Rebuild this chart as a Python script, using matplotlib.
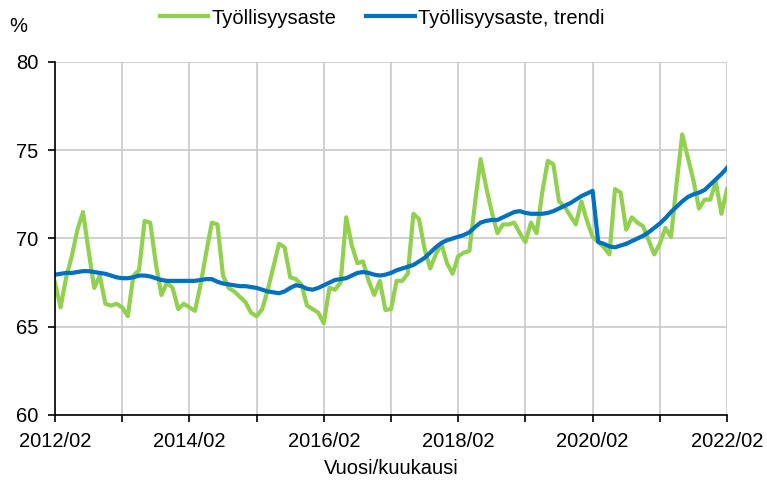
import matplotlib
matplotlib.use("Agg")
import matplotlib.pyplot as plt
from matplotlib import font_manager

# ---- data (monthly, 2012/02 .. 2022/02) ----
tick_labels = ["2012/02", "", "2014/02", "", "2016/02", "", "2018/02", "", "2020/02", "", "2022/02"]
y_ticks = [60, 65, 70, 75, 80]

employment = [
    67.5, 66.1, 67.8, 69.0, 70.5, 71.5, 69.3, 67.2, 67.9, 66.3, 66.2, 66.3,   # 2012/02-2013/01
    66.1, 65.6, 67.9, 68.2, 71.0, 70.9, 68.6, 66.8, 67.5, 67.2, 66.0, 66.3,   # 2013/02-2014/01
    66.1, 65.9, 67.4, 69.2, 70.9, 70.8, 67.9, 67.2, 67.0, 66.7, 66.4, 65.8,   # 2014/02-2015/01
    65.6, 66.0, 67.1, 68.4, 69.7, 69.5, 67.8, 67.7, 67.4, 66.2, 66.0, 65.8,   # 2015/02-2016/01
    65.2, 67.2, 67.1, 67.5, 71.2, 69.6, 68.6, 68.7, 67.6, 66.8, 67.6, 65.95,  # 2016/02-2017/01
    66.0, 67.6, 67.6, 68.0, 71.4, 71.1, 69.4, 68.3, 69.1, 69.7, 68.6, 68.0,   # 2017/02-2018/01
    69.0, 69.2, 69.3, 72.0, 74.5, 72.9, 71.5, 70.3, 70.8, 70.8, 70.9, 70.3,   # 2018/02-2019/01
    69.8, 70.9, 70.3, 72.6, 74.4, 74.2, 72.1, 71.8, 71.3, 70.8, 72.1, 71.0,   # 2019/02-2020/01
    70.1, 69.8, 69.5, 69.1, 72.8, 72.6, 70.5, 71.2, 70.9, 70.7, 69.9, 69.1,   # 2020/02-2021/01
    69.7, 70.6, 70.1, 73.1, 75.9, 74.6, 73.3, 71.7, 72.2, 72.2, 73.2, 71.4,   # 2021/02-2022/01
    72.8,                                                                     # 2022/02
]

trend = [
    67.95, 68.0, 68.05, 68.05, 68.1, 68.15, 68.15, 68.1, 68.05, 68.0, 67.9, 67.8,
    67.75, 67.75, 67.8, 67.9, 67.9, 67.85, 67.75, 67.65, 67.6, 67.6, 67.6, 67.6,
    67.6, 67.6, 67.65, 67.7, 67.7, 67.55, 67.45, 67.4, 67.35, 67.3, 67.3, 67.25,
    67.2, 67.1, 67.0, 66.95, 66.9, 67.0, 67.2, 67.35, 67.3, 67.15, 67.1, 67.2,
    67.35, 67.5, 67.65, 67.7, 67.75, 67.9, 68.05, 68.1, 68.05, 67.95, 67.9, 67.95,
    68.05, 68.2, 68.3, 68.4, 68.5, 68.7, 68.9, 69.2, 69.5, 69.75, 69.9, 70.0,
    70.1, 70.2, 70.35, 70.65, 70.9, 71.0, 71.05, 71.05, 71.2, 71.35, 71.5, 71.55,
    71.45, 71.4, 71.4, 71.4, 71.45, 71.55, 71.7, 71.85, 72.0, 72.2, 72.4, 72.55,
    72.7, 69.8, 69.7, 69.55, 69.5, 69.6, 69.7, 69.85, 70.0, 70.15, 70.35, 70.6,
    70.85, 71.15, 71.5, 71.8, 72.1, 72.35, 72.5, 72.6, 72.75, 73.05, 73.35, 73.65,
    74.0,
]

series_names = ["Työllisyysaste", "Työllisyysaste, trendi"]

# ---- font ----
avail = {f.name for f in font_manager.fontManager.ttflist}
fam = "Liberation Sans" if "Liberation Sans" in avail else "DejaVu Sans"
plt.rcParams["font.family"] = [fam, "DejaVu Sans"]
FS = 14.5

fig = plt.figure(figsize=(7.67, 4.86), dpi=100)
ax = fig.add_axes([55 / 767, 1 - 415 / 486, (727 - 55) / 767, (415 - 62) / 486])

months = list(range(len(employment)))
ax.plot(months, employment, color="#92D050", lw=3.0, solid_joinstyle="round",
        label=series_names[0], zorder=3)
ax.plot(list(range(len(trend))), trend, color="#0070C0", lw=3.0, solid_joinstyle="round",
        label=series_names[1], zorder=4)

ax.set_xlim(0, 120)
ax.set_ylim(60, 80)
xt = list(range(0, 121, 12))
ax.set_xticks(xt)
ax.set_xticklabels(tick_labels, fontsize=FS)
ax.set_yticks(y_ticks)
ax.set_yticklabels([str(v) for v in y_ticks], fontsize=FS)

ax.grid(True, color="#C8C8C8", lw=1.2, zorder=0)
ax.set_axisbelow(True)
for s in ["top", "right"]:
    ax.spines[s].set_visible(False)
for s in ["left", "bottom"]:
    ax.spines[s].set_color("black")
    ax.spines[s].set_linewidth(1.2)
    ax.spines[s].set_zorder(5)
ax.tick_params(axis="both", direction="out", length=5, width=1.2, color="black", pad=7)

ax.set_xlabel("Vuosi/kuukausi", fontsize=FS, labelpad=6)

fig.text(18 / 767, 1 - 27 / 486, "%", fontsize=FS, ha="center", va="center")

fig.legend(loc="center", bbox_to_anchor=(0.498, 1 - 18 / 486), ncol=2, frameon=False,
           fontsize=FS, handlelength=2.4, handletextpad=0.15, columnspacing=1.5,
           borderaxespad=0, borderpad=0)

fig.savefig("out.png", dpi=100)
